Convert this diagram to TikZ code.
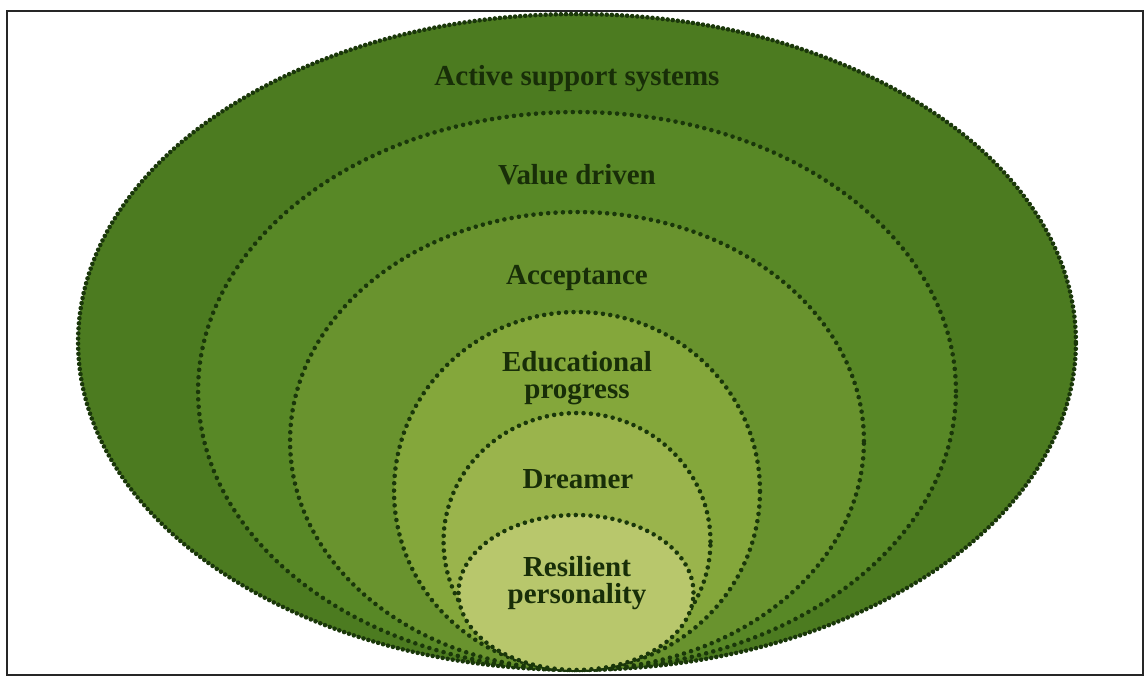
\documentclass[tikz,border=0pt]{standalone}
\usepackage{fontspec}
\setmainfont{Liberation Serif}
\usepackage{tikz}
\usetikzlibrary{shapes.geometric}

\definecolor{ringA}{HTML}{4C7B20}
\definecolor{ringB}{HTML}{588826}
\definecolor{ringC}{HTML}{69932E}
\definecolor{ringD}{HTML}{84A73B}
\definecolor{ringE}{HTML}{9AB44C}
\definecolor{ringF}{HTML}{B8C76C}
\definecolor{dotgreen}{HTML}{1A370A}
\definecolor{labelgreen}{HTML}{182E08}

\begin{document}
\begin{tikzpicture}[x=0.02cm, y=-0.02cm,
  ring/.style={ellipse, draw=dotgreen, line width=2.6pt, dash pattern=on 0pt off 4.2pt, line cap=round, inner sep=0pt, outer sep=0pt},
  tag/.style={font=\fontsize{16.5}{15.3}\selectfont\bfseries, text=labelgreen, align=center, inner sep=0pt}
]
  \useasboundingbox (0,0) rectangle (1144,679);
  \draw[line width=1.1pt, draw=black!85] (7,11) rectangle (1143,675);

  \node[ring, fill=ringA, dash pattern=on 0pt off 2.9pt, minimum width=19.96cm, minimum height=13.12cm] (support) at (577,342) {};
  \node[ring, fill=ringB, minimum width=15.16cm, minimum height=11.16cm] (value) at (577,391) {};
  \node[ring, fill=ringC, minimum width=11.48cm, minimum height=9.16cm] (accept) at (577,441) {};
  \node[ring, fill=ringD, minimum width=7.32cm, minimum height=7.16cm] (edu) at (577,491) {};
  \node[ring, fill=ringE, minimum width=5.34cm, minimum height=5.14cm] (dream) at (577,541.5) {};
  \node[ring, fill=ringF, minimum width=4.70cm, minimum height=3.10cm] (resil) at (576,592.5) {};

  \node[tag] (supportlbl) at (577,79) {Active support systems};
  \node[tag] (valuelbl) at (577,175) {Value driven};
  \node[tag] (acceptlbl) at (577,278) {Acceptance};
  \node[tag] (edulbl) at (577,378) {Educational\\progress};
  \node[tag] (dreamlbl) at (578,479) {Dreamer};
  \node[tag] (resillbl) at (577,583) {Resilient\\personality};
\end{tikzpicture}
\end{document}
